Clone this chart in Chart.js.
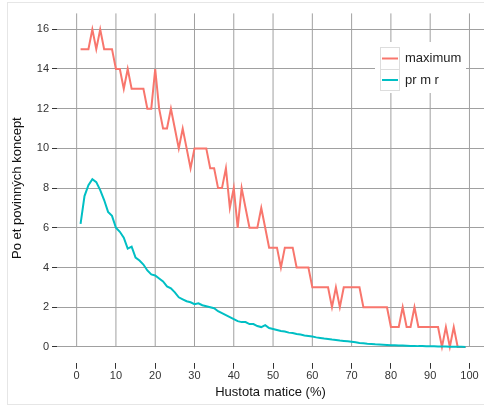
<!DOCTYPE html>
<html><head><meta charset="utf-8">
<script src="https://cdn.jsdelivr.net/npm/chart.js@4.4.0/dist/chart.umd.min.js"></script>
<style>
html,body{margin:0;padding:0;background:#fff;}
#frame{position:absolute;left:7px;top:2px;width:480px;height:403px;border:1px solid #e6e6e6;box-sizing:border-box;background:#fff;}
#wrap{position:absolute;left:0;top:0;width:484px;height:407px;}
</style></head><body>
<div id="frame"></div>
<div id="wrap"><canvas id="c" width="484" height="407"></canvas></div>
<script>
const density = [1,2,3,4,5,6,7,8,9,10,11,12,13,14,15,16,17,18,19,20,21,22,23,24,25,26,27,28,29,30,31,32,33,34,35,36,37,38,39,40,41,42,43,44,45,46,47,48,49,50,51,52,53,54,55,56,57,58,59,60,61,62,63,64,65,66,67,68,69,70,71,72,73,74,75,76,77,78,79,80,81,82,83,84,85,86,87,88,89,90,91,92,93,94,95,96,97,98,99];
const maximum = [15,15,15,16,15,16,15,15,15,14,14,13,14,13,13,13,13,12,12,14,12,11,11,12,11,10,11,10,9,10,10,10,10,9,9,8,8,9,7,8,6,8,7,6,6,6,7,6,5,5,5,4,5,5,5,4,4,4,4,3,3,3,3,3,2,3,2,3,3,3,3,3,2,2,2,2,2,2,2,1,1,1,2,1,1,2,1,1,1,1,1,1,0,1,0,1,0,0,0];
const prumer = [6.2,7.6,8.15,8.45,8.3,7.9,7.4,6.8,6.6,6.0,5.8,5.5,4.95,5.05,4.5,4.35,4.15,3.85,3.65,3.6,3.45,3.3,3.05,2.95,2.75,2.5,2.4,2.3,2.25,2.15,2.2,2.1,2.05,2.0,1.95,1.8,1.7,1.6,1.5,1.4,1.3,1.25,1.25,1.15,1.15,1.05,1.0,1.1,0.95,0.9,0.85,0.8,0.78,0.72,0.7,0.65,0.62,0.58,0.55,0.52,0.48,0.45,0.42,0.4,0.37,0.35,0.32,0.3,0.28,0.26,0.23,0.2,0.18,0.16,0.15,0.13,0.12,0.11,0.1,0.09,0.08,0.07,0.07,0.06,0.05,0.05,0.04,0.04,0.03,0.03,0.03,0.02,0.02,0.02,0.01,0.01,0.01,0.01,0.0];
const xTicks = [0,10,20,30,40,50,60,70,80,90,100];
const yTicks = [0,2,4,6,8,10,12,14,16];
const seriesNames = ['maximum','pr m r'];
const seriesColors = ['#F8766D','#00BFC4'];

const FONT = "'Liberation Sans', Arial, Helvetica, sans-serif";
const GRID = '#a0a0a0';

const vGrid = {
  id: 'vGrid',
  beforeDatasetsDraw(chart) {
    const {ctx, scales:{x, y}, chartArea} = chart;
    ctx.save();
    ctx.strokeStyle = GRID;
    ctx.lineWidth = 1;
    xTicks.forEach(v => {
      const px = x.getPixelForValue(v);
      ctx.beginPath();
      ctx.moveTo(px, chartArea.top);
      ctx.lineTo(px, y.getPixelForValue(0));
      ctx.stroke();
    });
    ctx.restore();
  }
};

const legendBox = {
  id: 'legendBox',
  afterDraw(chart) {
    const ctx = chart.ctx;
    ctx.save();
    ctx.fillStyle = '#fff';
    ctx.fillRect(375, 42, 91, 51);
    const cells = [[47.5, 22], [69.5, 21]];
    chart.data.datasets.forEach((ds, i) => {
      const [cy, ch] = cells[i];
      ctx.strokeStyle = '#dddddd';
      ctx.lineWidth = 1;
      ctx.strokeRect(380.5, cy, 19, ch);
      ctx.strokeStyle = ds.borderColor;
      ctx.lineWidth = 2;
      ctx.beginPath();
      ctx.moveTo(382, cy + ch / 2);
      ctx.lineTo(398, cy + ch / 2);
      ctx.stroke();
      ctx.fillStyle = '#222';
      ctx.font = '13px ' + FONT;
      ctx.textBaseline = 'middle';
      ctx.textAlign = 'left';
      ctx.fillText(ds.label, 405, cy + ch / 2);
    });
    ctx.restore();
  }
};

new Chart(document.getElementById('c'), {
  type: 'line',
  data: {
    datasets: [
      { label: seriesNames[0], data: density.map((d, i) => ({x: d, y: maximum[i]})), borderColor: seriesColors[0], borderWidth: 2, pointRadius: 0, tension: 0, order: 1 },
      { label: seriesNames[1], data: density.map((d, i) => ({x: d, y: prumer[i]})), borderColor: seriesColors[1], borderWidth: 2, pointRadius: 0, tension: 0, order: 0 }
    ]
  },
  options: {
    responsive: false,
    animation: false,
    layout: { padding: { top: 13.4, left: 0, right: 0, bottom: 0 } },
    plugins: { legend: { display: false }, tooltip: { enabled: false } },
    scales: {
      x: {
        type: 'linear', min: -5, max: 103.7,
        afterBuildTicks: s => { s.ticks = xTicks.map(v => ({value: v})); },
        afterFit: s => { s.height = 44.2; },
        grid: { drawOnChartArea: false, drawTicks: true, tickLength: 6, tickColor: '#333', tickWidth: 1 },
        border: { display: false },
        ticks: { padding: 1, autoSkip: false, maxRotation: 0, color: '#333', font: { size: 11, family: FONT } },
        title: { display: true, text: 'Hustota matice (%)', color: '#111', font: { size: 13, family: FONT }, padding: { top: 2, bottom: 7.2 } }
      },
      y: {
        type: 'linear', min: -0.8, max: 16.8,
        afterBuildTicks: s => { s.ticks = yTicks.map(v => ({value: v})); },
        afterFit: s => { s.width = 57; },
        grid: { color: GRID, lineWidth: 1, drawTicks: true, tickLength: 5, tickColor: '#333', tickWidth: 1 },
        border: { display: false },
        ticks: { padding: 3, color: '#333', font: { size: 11, family: FONT } },
        title: { display: true, text: 'Po et povinných koncept', color: '#111', font: { size: 13, family: FONT }, padding: { top: 9.2, bottom: 2 } }
      }
    }
  },
  plugins: [vGrid, legendBox]
});
</script>
</body></html>
